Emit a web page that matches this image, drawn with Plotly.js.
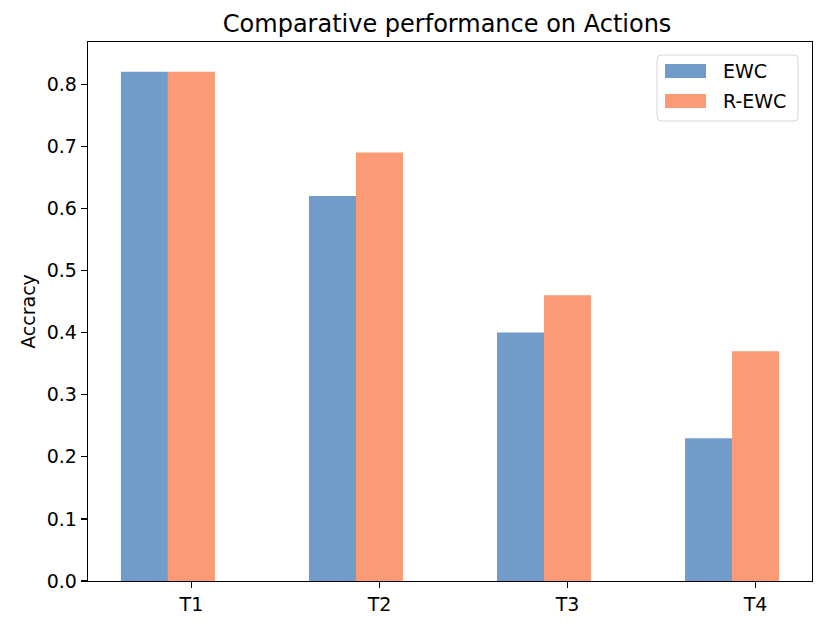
<!DOCTYPE html>
<html>
<head>
<meta charset="utf-8">
<script src="https://cdn.plot.ly/plotly-3.0.1.min.js"></script>
<style>html,body{margin:0;padding:0;background:#fff;}#chart{width:830px;height:630px;}</style>
</head>
<body>
<div id="chart"></div>
<script>
const categories = ["T1", "T2", "T3", "T4"];
const ewcValues = [0.82, 0.62, 0.40, 0.23];
const rewcValues = [0.82, 0.69, 0.46, 0.37];
const seriesNames = ["EWC", "R-EWC"];
const seriesColors = ["#719bc8", "#fc9a76"];
const yTickVals = [0.0, 0.1, 0.2, 0.3, 0.4, 0.5, 0.6, 0.7, 0.8];

const font = "DejaVu Sans, sans-serif";
const FS = 19;
const M = {l: 88, r: 18, t: 42, b: 49};
const W = 830, H = 630;
const PW = W - M.l - M.r, PH = H - M.t - M.b;
const px = x => (x - M.l) / PW;
const py = y => (H - M.b - y) / PH;

const traces = [
  {type: "bar", name: seriesNames[0], x: categories, y: ewcValues, showlegend: false,
   width: 0.25, offset: -0.375, marker: {color: seriesColors[0], line: {width: 0}}},
  {type: "bar", name: seriesNames[1], x: categories, y: rewcValues, showlegend: false,
   width: 0.25, offset: -0.125, marker: {color: seriesColors[1], line: {width: 0}}}
];

// legend drawn as shapes/annotations to mimic wide matplotlib patches
function roundRect(x0, y0, x1, y1, r) {
  const rx = r / PW, ry = r / PH;
  const X0 = px(x0), X1 = px(x1), Yt = py(y0), Yb = py(y1);
  return `M ${X0 + rx} ${Yt} L ${X1 - rx} ${Yt} Q ${X1} ${Yt} ${X1} ${Yt - ry} L ${X1} ${Yb + ry} Q ${X1} ${Yb} ${X1 - rx} ${Yb} L ${X0 + rx} ${Yb} Q ${X0} ${Yb} ${X0} ${Yb + ry} L ${X0} ${Yt - ry} Q ${X0} ${Yt} ${X0 + rx} ${Yt} Z`;
}
const shapes = [
  {type: "path", xref: "paper", yref: "paper", path: roundRect(657, 55, 798, 121, 4),
   fillcolor: "rgba(255,255,255,0.8)", line: {color: "#d6d6d6", width: 1}, layer: "above"}
];
const annotations = [];
const rowY = [71, 101];
seriesNames.forEach((n, i) => {
  shapes.push({type: "rect", xref: "paper", yref: "paper", x0: px(665), x1: px(706),
    y0: py(rowY[i] - 7), y1: py(rowY[i] + 7), fillcolor: seriesColors[i], line: {width: 0}, layer: "above"});
  annotations.push({xref: "paper", yref: "paper", x: px(721), y: py(rowY[i]), xanchor: "left", yanchor: "middle",
    text: n, showarrow: false, font: {family: font, size: FS, color: "#000"}});
});

const layout = {
  width: W, height: H,
  margin: M,
  paper_bgcolor: "#fff", plot_bgcolor: "#fff",
  barmode: "overlay",
  font: {family: font, size: FS, color: "#000"},
  title: {text: "Comparative performance on Actions", font: {family: font, size: 24, color: "#000"},
          x: 0.496, xanchor: "center", xref: "paper", y: 1 - 24 / H, yanchor: "middle"},
  xaxis: {type: "category", range: [-0.55, 3.3], showline: true, mirror: true, linecolor: "#000", linewidth: 1.3,
          ticks: "outside", ticklen: 6, tickwidth: 1.3, tickcolor: "#000", showgrid: false, zeroline: false,
          tickfont: {family: font, size: FS, color: "#000"}},
  yaxis: {range: [0, 0.868], tickvals: yTickVals, ticktext: yTickVals.map(v => v.toFixed(1)),
          showline: true, mirror: true, linecolor: "#000", linewidth: 1.3,
          ticks: "outside", ticklen: 6, tickwidth: 1.3, tickcolor: "#000", showgrid: false, zeroline: false,
          tickfont: {family: font, size: FS, color: "#000"},
          title: {text: "Accracy", font: {family: font, size: FS, color: "#000"}, standoff: 6}},
  shapes: shapes,
  annotations: annotations,
  showlegend: false
};
Plotly.newPlot("chart", traces, layout, {displayModeBar: false, staticPlot: true});
</script>
</body>
</html>
